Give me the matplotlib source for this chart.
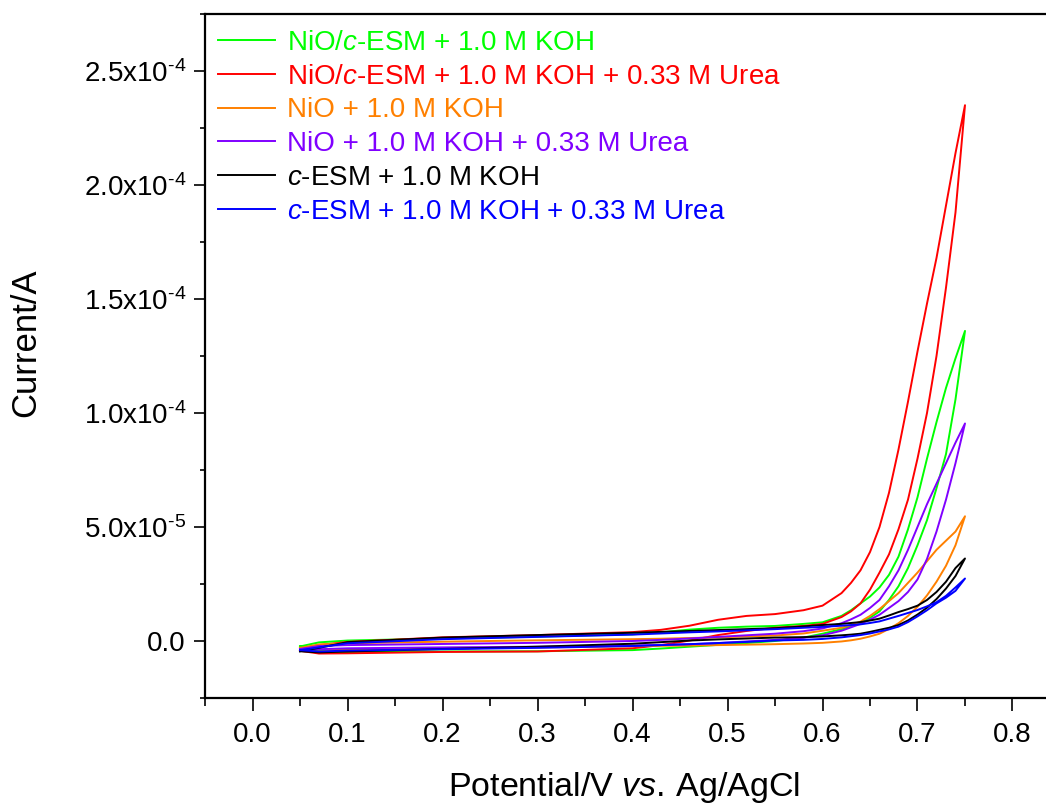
import numpy as np
import matplotlib
matplotlib.use('Agg')
import matplotlib.pyplot as plt
from matplotlib.ticker import MultipleLocator, FuncFormatter

plt.rcParams['font.family'] = 'Liberation Sans'
plt.rcParams['mathtext.fontset'] = 'custom'
plt.rcParams['mathtext.rm'] = 'Liberation Sans'
plt.rcParams['mathtext.it'] = 'Liberation Sans:italic'

# Data: potential grid (V) and current (uA) for forward / reverse scans

potential = [0.05, 0.07, 0.10, 0.20, 0.30, 0.40, 0.43, 0.46, 0.49, 0.52, 0.55, 0.58, 0.60, 0.62,
             0.63, 0.64, 0.65, 0.66, 0.67, 0.68, 0.69, 0.70, 0.71, 0.72, 0.73, 0.74, 0.75]

labels = ['NiO/$\\mathit{c}$-ESM + 1.0 M KOH',
          'NiO/$\\mathit{c}$-ESM + 1.0 M KOH + 0.33 M Urea',
          'NiO + 1.0 M KOH',
          'NiO + 1.0 M KOH + 0.33 M Urea',
          '$\\mathit{c}$-ESM + 1.0 M KOH',
          '$\\mathit{c}$-ESM + 1.0 M KOH + 0.33 M Urea']
colors = ['#00ff00', '#ff0000', '#ff8000', '#8000ff', '#000000', '#0000ff']

green_fwd = [-2.4, -0.6, 0.2, 1.1, 1.9, 2.9, 3.8, 5.0, 5.8, 6.3, 6.6, 7.5, 8.2, 11.0,
             13.5, 16.5, 19.5, 23.5, 29, 37, 49, 63, 80, 96, 111, 124, 136]
green_rev = [-2.4, -4.4, -4.8, -4.6, -4.5, -4.0, -3.3, -2.5, -1.7, -0.9, 0.0, 1.5, 3.2, 5.2,
             6.5, 8.0, 10.2, 13, 18, 24, 32, 42, 53, 67, 82, 106, 136]

red_fwd = [-4.3, -1.8, -0.4, 1.6, 2.6, 3.9, 4.9, 6.7, 9.3, 11.0, 11.8, 13.5, 15.5, 21,
           25.5, 31, 39, 50, 65, 84, 105, 127, 148, 168, 191, 214, 235]
red_rev = [-4.3, -5.5, -5.4, -4.8, -4.6, -3.2, -1.8, 0.2, 2.6, 4.4, 5.8, 6.6, 7.5, 10.5,
           13, 16.5, 22.5, 30, 38, 49, 62, 80, 100, 125, 155, 188, 235]

orange_fwd = [-3.0, -1.5, -1.0, -0.3, 0.3, 0.8, 1.0, 1.3, 1.6, 2.0, 2.4, 3.3, 4.5, 5.8,
              7.0, 8.5, 11, 14, 17.5, 21, 25.5, 30, 35, 40, 44, 48, 54.7]
orange_rev = [-3.0, -3.8, -3.8, -3.2, -2.8, -2.3, -2.1, -2.0, -1.8, -1.6, -1.4, -1.1, -0.8, -0.2,
              0.3, 1.0, 2.0, 3.2, 5.3, 7.8, 11, 15, 20, 26, 33, 42, 54.7]

purple_fwd = [-3.5, -2.2, -1.8, -1.3, -0.8, 0.0, 0.5, 1.1, 1.8, 2.5, 3.2, 4.3, 5.5, 7.8,
              9.5, 11.5, 14.5, 18, 24, 31, 40, 50, 60, 69, 78, 87, 95.4]
purple_rev = [-3.5, -3.6, -3.2, -2.8, -2.5, -2.0, -1.7, -1.4, -0.9, -0.2, 0.5, 1.4, 2.5, 4.5,
              6.0, 7.5, 9.4, 11.5, 14.5, 17.5, 21.5, 27, 36, 48, 62, 78, 95.4]

black_fwd = [-4.5, -3.0, -0.5, 1.5, 2.6, 3.6, 4.0, 4.4, 4.8, 5.2, 5.6, 6.4, 7.0, 7.5,
             7.9, 8.3, 9.0, 9.8, 11.2, 12.7, 14.0, 15.5, 18, 21.5, 26, 32, 36.2]
black_rev = [-4.5, -5.0, -4.6, -3.5, -2.5, -1.2, -0.5, 0.2, 0.7, 1.1, 1.5, 1.7, 2.0, 2.5,
             2.8, 3.2, 4.0, 4.9, 5.8, 7.0, 9.0, 11.6, 14.6, 18.4, 23, 28.5, 36.2]

blue_fwd = [-4.0, -2.8, -1.0, 0.8, 1.8, 2.8, 3.3, 3.8, 4.2, 4.7, 5.2, 5.8, 6.2, 6.7,
            7.0, 7.3, 7.9, 8.6, 9.8, 11.0, 12.3, 13.6, 15.2, 17, 19.8, 23.5, 27.4]
blue_rev = [-4.0, -4.6, -4.2, -3.6, -3.0, -2.2, -1.8, -1.4, -0.9, -0.4, 0.2, 0.5, 0.9, 1.6,
            2.1, 2.6, 3.3, 4.2, 5.1, 6.3, 8.3, 10.8, 13.5, 16.5, 19, 22, 27.4]

forward = [green_fwd, red_fwd, orange_fwd, purple_fwd, black_fwd, blue_fwd]
reverse = [green_rev, red_rev, orange_rev, purple_rev, black_rev, blue_rev]


def sci_fmt(v, pos):
    if abs(v) < 1e-12:
        return '0.0'
    e = int(np.floor(np.log10(abs(v)) + 1e-9))
    mant = v / 10 ** e
    return '$\\mathregular{%.1fx10^{\u2010%d}}$' % (mant, -e)


fig = plt.figure(figsize=(10.46, 8.05), dpi=100)
ax = fig.add_axes([205 / 1046, 107 / 805, 855 / 1046, 684 / 805])

E = np.array(potential)
for fwd, rev, lab, col in zip(forward, reverse, labels, colors):
    x = np.concatenate([E, E[::-1]])
    y = np.concatenate([fwd, rev[::-1]]) * 1e-6
    ax.plot(x, y, color=col, lw=1.4, label=lab)

ax.set_xlim(-0.05, 0.85)
ax.set_ylim(-2.5e-5, 2.75e-4)
ax.xaxis.set_major_locator(MultipleLocator(0.1))
ax.xaxis.set_minor_locator(MultipleLocator(0.05))
ax.yaxis.set_major_locator(MultipleLocator(5e-5))
ax.yaxis.set_minor_locator(MultipleLocator(2.5e-5))
ax.xaxis.set_major_formatter(FuncFormatter(lambda v, p: '%.1f' % v))
ax.yaxis.set_major_formatter(FuncFormatter(sci_fmt))

ax.tick_params(axis='x', which='major', direction='out', length=9.5, width=1.2, labelsize=20, pad=8)
ax.tick_params(axis='x', which='minor', direction='out', length=6, width=1.2)
ax.tick_params(axis='y', which='major', direction='out', length=7.7, width=1.2, labelsize=20, pad=6)
ax.tick_params(axis='y', which='minor', direction='out', length=3.5, width=1.2)
for sp in ax.spines.values():
    sp.set_linewidth(1.6)

ax.set_xlabel('Potential/V $\\mathit{vs.}\\,$Ag/AgCl', fontsize=24.5)
ax.set_ylabel('Current/A', fontsize=25)
ax.xaxis.set_label_coords(0.49, -0.105)
ax.yaxis.set_label_coords(-0.19, 0.52)

leg = ax.legend(loc='upper left', bbox_to_anchor=(0.0153, 0.977), frameon=False,
                fontsize=20, handlelength=2.05, handletextpad=0.43, labelspacing=0.28,
                borderpad=0, borderaxespad=0)
for t, l in zip(leg.get_texts(), leg.get_lines()):
    t.set_color(l.get_color())

fig.savefig('out.png', dpi=100)
